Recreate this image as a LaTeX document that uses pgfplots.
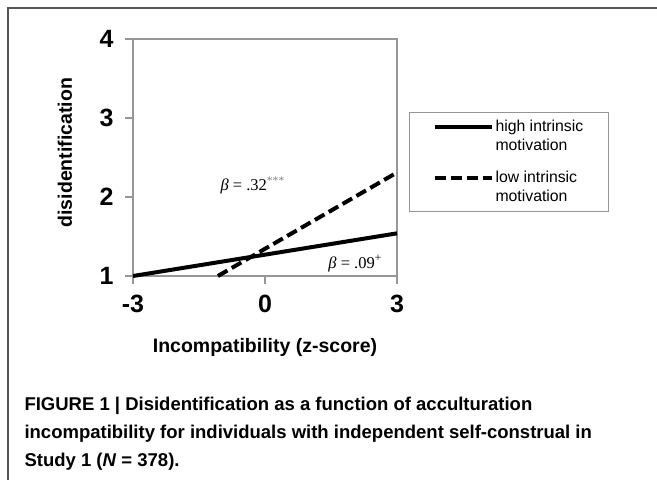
\documentclass[border=0pt]{standalone}
\usepackage{fontspec}
\setmainfont{Liberation Sans}
\newfontfamily\seriffont{Liberation Serif}
\usepackage{pgfplots}
\pgfplotsset{compat=1.18}
\definecolor{axisgray}{RGB}{150,150,150}
\definecolor{framegray}{RGB}{85,85,85}
\begin{document}
\begin{tikzpicture}
\useasboundingbox (0,0) rectangle (657pt,480pt);
% outer frame (only top and left edges are visible)
\draw[framegray,line width=1.3pt] (8pt,-5pt) -- (8pt,472pt) -- (665pt,472pt);
\begin{axis}[
    at={(133pt,204pt)}, anchor=south west,
    scale only axis, width=264pt, height=237pt,
    xmin=-3, xmax=3, ymin=1, ymax=4,
    xtick={-3,0,3}, xticklabels={-3,0,3},
    ytick={1,2,3,4}, yticklabels={1,2,3,4},
    xtick pos=bottom, ytick pos=left,
    tick align=outside, major tick length=8pt,
    axis line style={axisgray, line width=1.2pt},
    every tick/.style={axisgray, line width=1.2pt},
    tick label style={font=\fontsize{25}{25}\selectfont\bfseries},
    yticklabel style={xshift=-8pt},
    xticklabel style={yshift=-8pt},
    xlabel={Incompatibility (z-score)},
    ylabel={disidentification},
    label style={font=\fontsize{19.5}{20}\selectfont\bfseries},
    xlabel style={at={(axis description cs:0.5,-0.30)}, anchor=center},
    ylabel style={at={(axis description cs:-0.258,0.52)}, anchor=center},
    clip=false,
    legend style={
        at={(axis description cs:1.0455,0.692)}, anchor=north west,
        draw=axisgray, line width=1pt,
        font=\fontsize{15.8}{19}\selectfont,
        cells={align=left, anchor=west},
        inner xsep=23pt, inner ysep=6pt,
        row sep=15pt,
    },
    legend image code/.code={\draw[#1] (0pt,9.5pt) -- (57pt,9.5pt);},
]

\addplot[black, line width=4pt] coordinates {(-3,1) (3,1.54)};
\addlegendentry{high intrinsic\\motivation}

\addplot[black, line width=4pt, dash pattern=on 11pt off 5pt] coordinates {(-1.07,1) (3,2.31)};
\addlegendentry{low intrinsic\\motivation}

\node[font=\seriffont\fontsize{16.5}{17}\selectfont] at (axis cs:-0.28,2.15)
    {\textit{β} = .32\textsuperscript{\textcolor{gray}{***}}};
\node[font=\seriffont\fontsize{16.5}{17}\selectfont] at (axis cs:2.05,1.16)
    {\textit{β} = .09\textsuperscript{+}};
\end{axis}

\node[anchor=base west, align=left, font=\fontsize{18.5}{28}\selectfont\bfseries] at (21pt,13pt)
    {FIGURE 1 | Disidentification as a function of acculturation\\
     incompatibility for individuals with independent self-construal in\\
     Study 1 (\textit{N} = 378).};
\end{tikzpicture}
\end{document}
